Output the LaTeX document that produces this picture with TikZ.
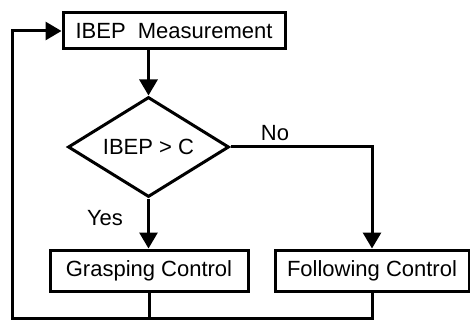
\documentclass[tikz,border=0pt]{standalone}
\usepackage{fontspec}
\setmainfont{Liberation Sans}
\usetikzlibrary{shapes.geometric,arrows.meta}
\begin{document}
\begin{tikzpicture}[x=1pt,y=-1pt,
  font=\fontsize{22}{26}\selectfont,
  box/.style={draw,line width=3pt,rectangle,inner sep=0pt},
  dia/.style={draw,line width=3pt,diamond,shape aspect=1.61,inner sep=0pt,minimum width=161pt,minimum height=100pt},
  conn/.style={line width=3pt},
  arr/.style={conn,-{Triangle[length=16pt,width=18pt]}}]
\useasboundingbox (0,0) rectangle (470,320);
\node[box,minimum width=222pt,minimum height=36pt] (meas) at (174,31) {IBEP\ \ Measurement};
\node[dia] (dec) at (148.5,147) {IBEP > C};
\node[box,minimum width=198pt,minimum height=41pt] (grasp) at (149,270.5) {Grasping Control};
\node[box,minimum width=194pt,minimum height=41pt] (follow) at (372,270.5) {Following Control};
\node (no) at (275,133) {No};
\node (yes) at (105,218) {Yes};
\coordinate (bl) at (12,318);
\draw[arr] (meas.south -| dec.north) -- (dec.north);
\draw[arr] (dec.south) -- (grasp.north -| dec.south);
\draw[arr] (dec.east) -| (follow.north);
\draw[conn] (grasp.south) -- (grasp.south |- bl);
\draw[arr] (follow.south) |- (bl) |- (meas.west);
\end{tikzpicture}
\end{document}
